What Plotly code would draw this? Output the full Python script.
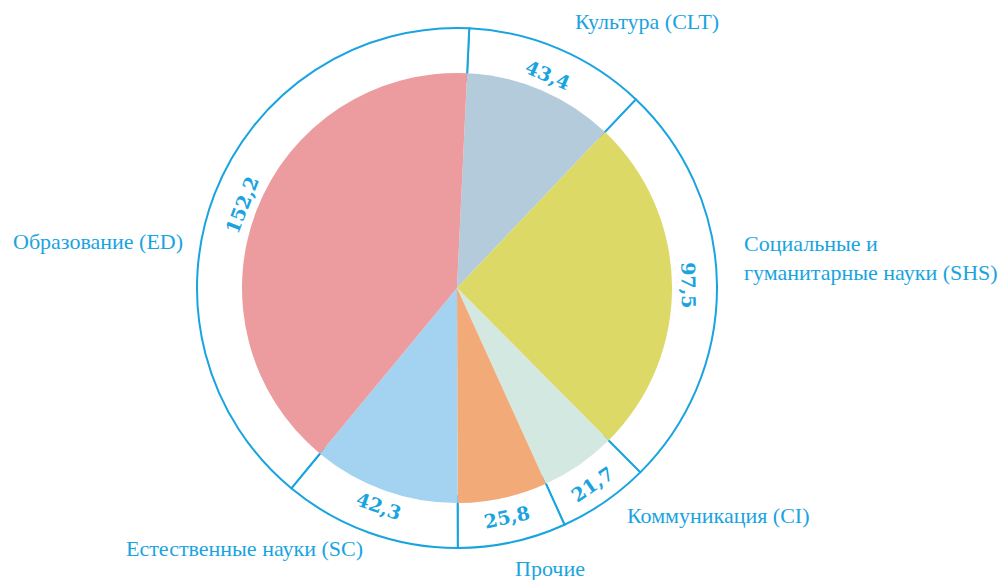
import plotly.graph_objects as go

# ---- data ----
categories = ["Культура (CLT)", "Социальные и<br>гуманитарные науки (SHS)", "Коммуникация (CI)",
              "Прочие", "Естественные науки (SC)", "Образование (ED)"]
values = [43.4, 97.5, 21.7, 25.8, 42.3, 152.2]
value_labels = [f"<b>{v:.1f}</b>".replace(".", ",") for v in values]
slice_colors = ["#b4cbdc", "#dcd966", "#d3e8e1", "#f2aa79", "#a3d3f0", "#ec9c9f"]

BLUE = "#19a4e0"
W, H = 1000, 580
CX, CY = 457, 288          # pie centre in pixels
R_PIE, R_RING = 215, 260
ROT = 2.7

def dom(r):
    return dict(x=[(CX - r) / W, (CX + r) / W], y=[1 - (CY + r) / H, 1 - (CY - r) / H])

fig = go.Figure()

# outer ring with values
fig.add_trace(go.Pie(
    values=values, labels=categories, text=value_labels, textinfo="text",
    sort=False, direction="clockwise", rotation=ROT, hole=0.8,
    marker=dict(colors=["white"] * len(values), line=dict(color=BLUE, width=2)),
    textposition="inside", insidetextorientation="tangential",
    textfont=dict(family="DejaVu Serif", size=19, color=BLUE),
    domain=dom(R_RING), showlegend=False, hoverinfo="skip",
))

# inner pie
fig.add_trace(go.Pie(
    values=values, labels=categories, textinfo="none",
    sort=False, direction="clockwise", rotation=ROT,
    marker=dict(colors=slice_colors, line=dict(width=0)),
    domain=dom(R_PIE), showlegend=False,
))

# category labels (pixel anchors)
label_pos = [
    (647, 22, "center"),
    (742, 258, "left"),
    (625, 515, "left"),
    (550, 568, "center"),
    (365, 548, "right"),
    (185, 241, "right"),
]
for name, (x, y, anchor) in zip(categories, label_pos):
    fig.add_annotation(
        x=x / W, y=1 - y / H, xref="paper", yref="paper", text=name, showarrow=False,
        xanchor=anchor, yanchor="middle", align="left",
        font=dict(family="Liberation Serif", size=22, color=BLUE),
    )

fig.update_layout(
    width=W, height=H, margin=dict(l=0, r=0, t=0, b=0),
    paper_bgcolor="white", plot_bgcolor="white",
)
fig.write_html("out.html", post_script="document.body.style.margin='0';",
               config={"displayModeBar": False})
